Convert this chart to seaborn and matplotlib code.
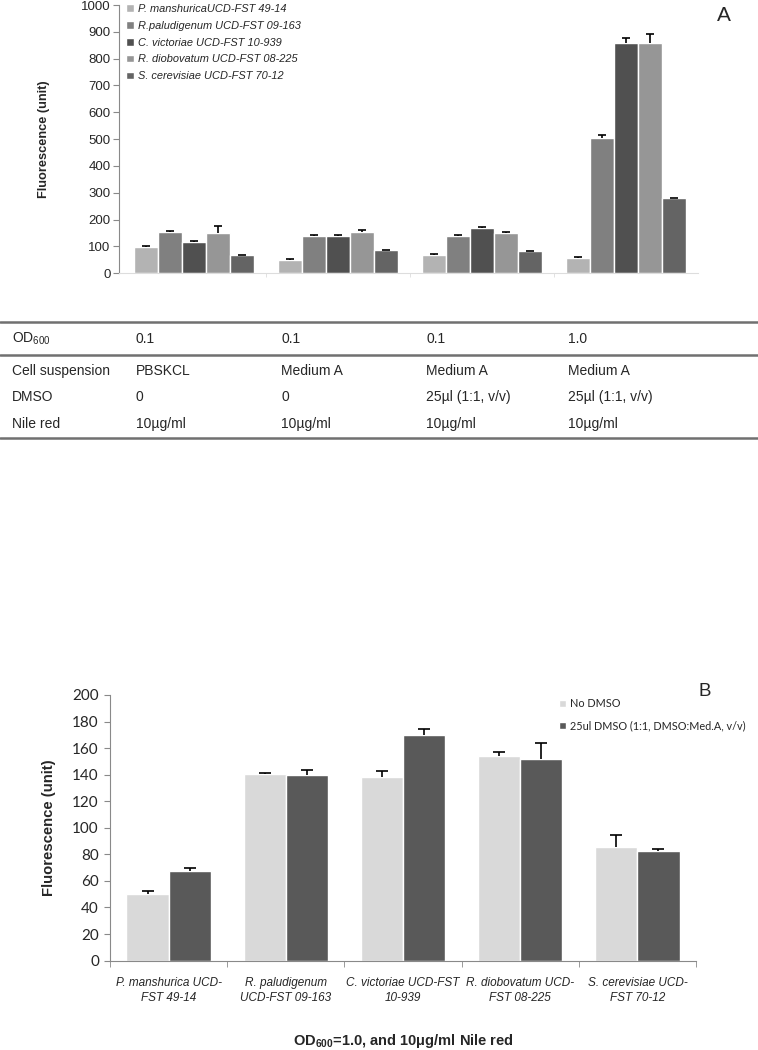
import seaborn as sns
import matplotlib
matplotlib.use('Agg')
import matplotlib.pyplot as plt
import pandas as pd
from matplotlib.lines import Line2D

# Panel A data
conditions = ['c1', 'c2', 'c3', 'c4']
strains_a = ['P. manshuricaUCD-FST 49-14', 'R.paludigenum UCD-FST 09-163',
             'C. victoriae UCD-FST 10-939', 'R. diobovatum UCD-FST 08-225',
             'S. cerevisiae UCD-FST 70-12']
vals_a = [[97, 50, 67, 58],
          [155, 140, 140, 505],
          [118, 139, 170, 857],
          [152, 153, 152, 857],
          [70, 85, 83, 281]]
errs_a = [[3, 3, 5, 3],
          [3, 3, 3, 10],
          [3, 3, 3, 20],
          [25, 10, 3, 35],
          [0, 0, 0, 0]]
colors_a = ['#b3b3b3', '#808080', '#505050', '#969696', '#646464']

# Table under panel A
row_labels = ['OD$_{600}$', 'Cell suspension', 'DMSO', 'Nile red']
od_row = ['0.1', '0.1', '0.1', '1.0']
cell_row = ['PBSKCL', 'Medium A', 'Medium A', 'Medium A']
dmso_row = ['0', '0', '25\u00b5l (1:1, v/v)', '25\u00b5l (1:1, v/v)']
nile_row = ['10\u00b5g/ml', '10\u00b5g/ml', '10\u00b5g/ml', '10\u00b5g/ml']

# Panel B data
strains_b = ['P. manshurica UCD-\nFST 49-14', 'R. paludigenum\nUCD-FST 09-163',
             'C. victoriae UCD-FST\n10-939', 'R. diobovatum UCD-\nFST 08-225',
             'S. cerevisiae UCD-\nFST 70-12']
treat_b = ['No DMSO', '25ul DMSO (1:1, DMSO:Med.A, v/v)']
no_dmso = [50.5, 140.5, 138.5, 153.8, 85.8]
no_dmso_err = [2, 0.5, 4.5, 3.2, 8.8]
dmso = [67.7, 140, 170, 152, 82.8]
dmso_err = [2, 3.5, 4.7, 11.6, 1.5]
colors_b = ['#d9d9d9', '#595959']

sns.set_style('white')
plt.rcParams['font.family'] = ['Liberation Sans', 'DejaVu Sans']
plt.rcParams['mathtext.fontset'] = 'custom'
plt.rcParams['mathtext.rm'] = 'Liberation Sans'
plt.rcParams['mathtext.bf'] = 'Liberation Sans:bold'

spine_c = '#898989'
fig = plt.figure(figsize=(7.58, 10.5), dpi=100)


def upper_errors(ax, containers, errs, capsize):
    # one-sided (upward) error bars, only the top cap
    for cont, err in zip(containers, errs):
        xs = [b.get_x() + b.get_width() / 2 for b in cont]
        ys = [b.get_height() for b in cont]
        eb = ax.errorbar(xs, ys, yerr=[[0] * len(err), err], fmt='none',
                         ecolor='black', elinewidth=1.2, capsize=capsize,
                         capthick=1.2)
        eb.lines[1][0].set_visible(False)


# ---------- Panel A ----------
axA = fig.add_axes([119 / 758, 1 - 273.3 / 1050, (698 - 119) / 758, (273.3 - 5) / 1050])
dfA = pd.DataFrame([(c, s, vals_a[i][j]) for i, s in enumerate(strains_a)
                    for j, c in enumerate(conditions)],
                   columns=['cond', 'strain', 'val'])
sns.barplot(data=dfA, x='cond', y='val', hue='strain', order=conditions,
            hue_order=strains_a, palette=colors_a, width=0.83, gap=0,
            errorbar=None, saturation=1, ax=axA)
upper_errors(axA, axA.containers, errs_a, 3)
axA.set_ylim(0, 1000)
axA.set_xlim(-0.52, 3.5)
axA.set_yticks(range(0, 1001, 100))
axA.tick_params(axis='y', labelsize=9.5, length=4, color=spine_c, pad=2, left=True)
axA.set_xticks([])
axA.set_xticks([0.5, 1.5, 2.5], minor=True)
axA.tick_params(axis='x', which='minor', length=3, color='#dddddd', bottom=True)
axA.set_xlabel('')
axA.set_ylabel('Fluorescence (unit)', fontsize=9.2, fontweight='bold', labelpad=22)
for s in ['top', 'right']:
    axA.spines[s].set_visible(False)
axA.spines['left'].set_color(spine_c)
axA.spines['bottom'].set_color('#dddddd')
h, l = axA.get_legend_handles_labels()
axA.legend(h, l, loc='upper left', bbox_to_anchor=(0.005, 1.02), frameon=False,
           prop={'size': 7.9, 'style': 'italic'}, handlelength=0.7, handleheight=0.7,
           handletextpad=0.35, labelspacing=0.62, borderaxespad=0)
fig.text(724 / 758, 1 - 15.5 / 1050, 'A', fontsize=15, ha='center', va='center')

# ---------- Table ----------
line_c = '#707070'
for yl in [321.7, 355, 438.3]:
    fig.add_artist(Line2D([0, 1], [1 - yl / 1050] * 2, color=line_c, lw=1.8,
                          transform=fig.transFigure))
row_y = [339, 371, 397, 424]
col_x = [136, 281, 426, 568]
for ry, lab, row in zip(row_y, row_labels, [od_row, cell_row, dmso_row, nile_row]):
    fig.text(12 / 758, 1 - ry / 1050, lab, fontsize=10, va='center', ha='left')
    for cx, v in zip(col_x, row):
        fig.text(cx / 758, 1 - ry / 1050, v, fontsize=10, va='center', ha='left')

# ---------- Panel B ----------
axB = fig.add_axes([110 / 758, 1 - 960.6 / 1050, (696 - 110) / 758, (960.6 - 695) / 1050])
dfB = pd.DataFrame({'strain': strains_b * 2,
                    'treat': [treat_b[0]] * 5 + [treat_b[1]] * 5,
                    'val': no_dmso + dmso})
sns.barplot(data=dfB, x='strain', y='val', hue='treat', order=strains_b,
            hue_order=treat_b, palette=colors_b, width=0.72, gap=0,
            errorbar=None, saturation=1, ax=axB)
upper_errors(axB, axB.containers, [no_dmso_err, dmso_err], 4.3)
axB.set_ylim(0, 200)
axB.set_xlim(-0.5, 4.5)
axB.set_yticks(range(0, 201, 20))
axB.set_yticklabels([str(v) for v in range(0, 201, 20)], family='Lato', fontsize=11)
axB.tick_params(axis='y', length=4, color=spine_c, pad=4, left=True)
axB.set_xticks(range(5))
axB.set_xticklabels(strains_b, fontsize=8.5, style='italic', linespacing=1.3)
axB.tick_params(axis='x', which='major', length=0, pad=12)
axB.set_xticks([i - 0.5 for i in range(6)], minor=True)
axB.tick_params(axis='x', which='minor', length=4, color=spine_c, bottom=True)
axB.set_ylabel('Fluorescence (unit)', fontsize=10.7, fontweight='bold', labelpad=12)
axB.set_xlabel(r'OD$_{\mathbf{600}}$=1.0, and 10$\mathbf{\mu}$g/ml Nile red',
               fontsize=10.5, fontweight='bold', labelpad=20)
for s in ['top', 'right']:
    axB.spines[s].set_visible(False)
axB.spines['left'].set_color(spine_c)
axB.spines['bottom'].set_color(spine_c)
h, l = axB.get_legend_handles_labels()
axB.legend(h, l, loc='upper left', bbox_to_anchor=(555 / 758, 1 - 694 / 1050),
           bbox_transform=fig.transFigure, frameon=False,
           prop={'size': 7.8, 'family': 'Lato'}, handlelength=0.6, handleheight=0.6,
           handletextpad=0.35, labelspacing=1.0, borderaxespad=0)
fig.text(705 / 758, 1 - 691.5 / 1050, 'B', fontsize=13.5, ha='center', va='center')

fig.savefig('out.png', dpi=100)
